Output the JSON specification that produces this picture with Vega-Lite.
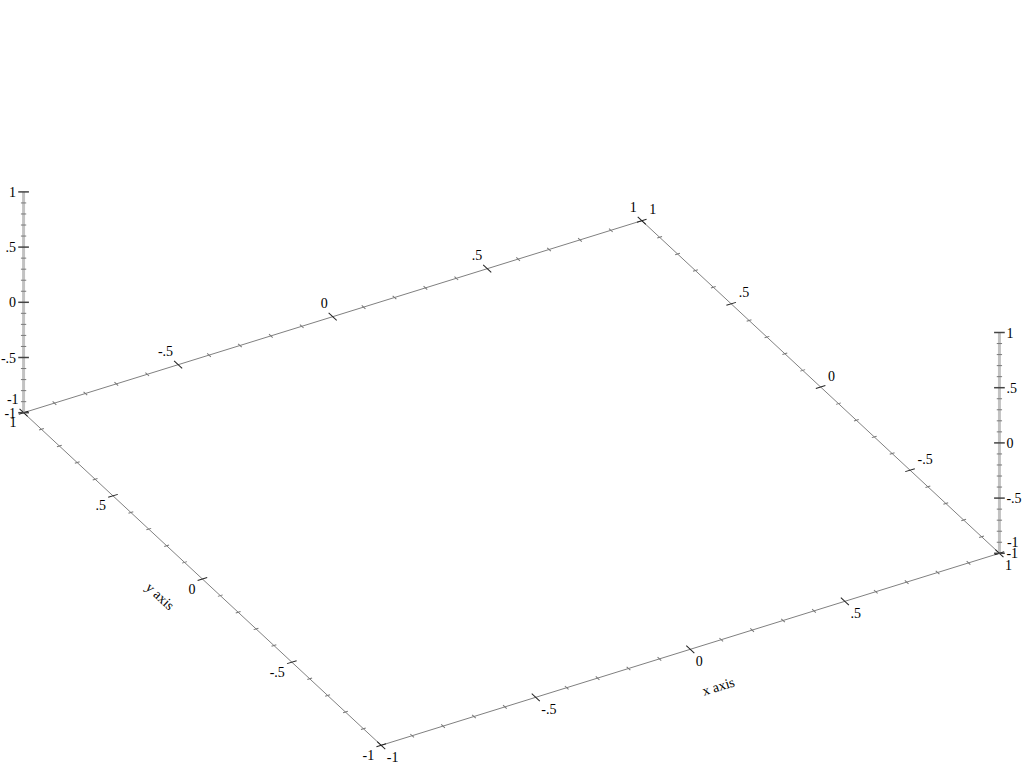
{
"$schema": "https://vega.github.io/schema/vega-lite/v6.json",
"width": 1024, "height": 768,
"autosize": {"type": "fit", "contains": "padding"},
"padding": 0,
"background": "white",
"config": {"view": {"stroke": null}, "text": {"font": "Liberation Serif", "fontSize": 14, "color": "#000000"}},
"datasets": {
"edges": [
{"k":"z","x":-1,"y":1,"z":-1,"x2":-1,"y2":1,"z2":1},
{"k":"z","x":1,"y":-1,"z":-1,"x2":1,"y2":-1,"z2":1},
{"k":"g","x":-1,"y":-1,"z":-1,"x2":1,"y2":-1,"z2":-1},
{"k":"g","x":-1,"y":1,"z":-1,"x2":1,"y2":1,"z2":-1},
{"k":"g","x":-1,"y":-1,"z":-1,"x2":-1,"y2":1,"z2":-1},
{"k":"g","x":1,"y":-1,"z":-1,"x2":1,"y2":1,"z2":-1}
],
"titles": [
{"t":"x axis","x":-0.03,"y":-1.21,"z":-1},
{"t":"y axis","x":-1.15,"y":-0.02,"z":-1}
],
"ticks": [
{"a":"xf","x":-1,"y":-1,"z":-1,"m":1,"l":"-1"},
{"a":"xf","x":-0.9,"y":-1,"z":-1,"m":0},
{"a":"xf","x":-0.8,"y":-1,"z":-1,"m":0},
{"a":"xf","x":-0.7,"y":-1,"z":-1,"m":0},
{"a":"xf","x":-0.6,"y":-1,"z":-1,"m":0},
{"a":"xf","x":-0.5,"y":-1,"z":-1,"m":1,"l":"-.5"},
{"a":"xf","x":-0.4,"y":-1,"z":-1,"m":0},
{"a":"xf","x":-0.3,"y":-1,"z":-1,"m":0},
{"a":"xf","x":-0.2,"y":-1,"z":-1,"m":0},
{"a":"xf","x":-0.1,"y":-1,"z":-1,"m":0},
{"a":"xf","x":0,"y":-1,"z":-1,"m":1,"l":"0"},
{"a":"xf","x":0.1,"y":-1,"z":-1,"m":0},
{"a":"xf","x":0.2,"y":-1,"z":-1,"m":0},
{"a":"xf","x":0.3,"y":-1,"z":-1,"m":0},
{"a":"xf","x":0.4,"y":-1,"z":-1,"m":0},
{"a":"xf","x":0.5,"y":-1,"z":-1,"m":1,"l":".5"},
{"a":"xf","x":0.6,"y":-1,"z":-1,"m":0},
{"a":"xf","x":0.7,"y":-1,"z":-1,"m":0},
{"a":"xf","x":0.8,"y":-1,"z":-1,"m":0},
{"a":"xf","x":0.9,"y":-1,"z":-1,"m":0},
{"a":"xf","x":1,"y":-1,"z":-1,"m":1,"l":"1"},
{"a":"xb","x":-1,"y":1,"z":-1,"m":1,"l":"-1"},
{"a":"xb","x":-0.9,"y":1,"z":-1,"m":0},
{"a":"xb","x":-0.8,"y":1,"z":-1,"m":0},
{"a":"xb","x":-0.7,"y":1,"z":-1,"m":0},
{"a":"xb","x":-0.6,"y":1,"z":-1,"m":0},
{"a":"xb","x":-0.5,"y":1,"z":-1,"m":1,"l":"-.5"},
{"a":"xb","x":-0.4,"y":1,"z":-1,"m":0},
{"a":"xb","x":-0.3,"y":1,"z":-1,"m":0},
{"a":"xb","x":-0.2,"y":1,"z":-1,"m":0},
{"a":"xb","x":-0.1,"y":1,"z":-1,"m":0},
{"a":"xb","x":0,"y":1,"z":-1,"m":1,"l":"0"},
{"a":"xb","x":0.1,"y":1,"z":-1,"m":0},
{"a":"xb","x":0.2,"y":1,"z":-1,"m":0},
{"a":"xb","x":0.3,"y":1,"z":-1,"m":0},
{"a":"xb","x":0.4,"y":1,"z":-1,"m":0},
{"a":"xb","x":0.5,"y":1,"z":-1,"m":1,"l":".5"},
{"a":"xb","x":0.6,"y":1,"z":-1,"m":0},
{"a":"xb","x":0.7,"y":1,"z":-1,"m":0},
{"a":"xb","x":0.8,"y":1,"z":-1,"m":0},
{"a":"xb","x":0.9,"y":1,"z":-1,"m":0},
{"a":"xb","x":1,"y":1,"z":-1,"m":1,"l":"1"},
{"a":"yf","x":-1,"y":-1,"z":-1,"m":1,"l":"-1"},
{"a":"yf","x":-1,"y":-0.9,"z":-1,"m":0},
{"a":"yf","x":-1,"y":-0.8,"z":-1,"m":0},
{"a":"yf","x":-1,"y":-0.7,"z":-1,"m":0},
{"a":"yf","x":-1,"y":-0.6,"z":-1,"m":0},
{"a":"yf","x":-1,"y":-0.5,"z":-1,"m":1,"l":"-.5"},
{"a":"yf","x":-1,"y":-0.4,"z":-1,"m":0},
{"a":"yf","x":-1,"y":-0.3,"z":-1,"m":0},
{"a":"yf","x":-1,"y":-0.2,"z":-1,"m":0},
{"a":"yf","x":-1,"y":-0.1,"z":-1,"m":0},
{"a":"yf","x":-1,"y":0,"z":-1,"m":1,"l":"0"},
{"a":"yf","x":-1,"y":0.1,"z":-1,"m":0},
{"a":"yf","x":-1,"y":0.2,"z":-1,"m":0},
{"a":"yf","x":-1,"y":0.3,"z":-1,"m":0},
{"a":"yf","x":-1,"y":0.4,"z":-1,"m":0},
{"a":"yf","x":-1,"y":0.5,"z":-1,"m":1,"l":".5"},
{"a":"yf","x":-1,"y":0.6,"z":-1,"m":0},
{"a":"yf","x":-1,"y":0.7,"z":-1,"m":0},
{"a":"yf","x":-1,"y":0.8,"z":-1,"m":0},
{"a":"yf","x":-1,"y":0.9,"z":-1,"m":0},
{"a":"yf","x":-1,"y":1,"z":-1,"m":1,"l":"1"},
{"a":"yb","x":1,"y":-1,"z":-1,"m":1,"l":"-1"},
{"a":"yb","x":1,"y":-0.9,"z":-1,"m":0},
{"a":"yb","x":1,"y":-0.8,"z":-1,"m":0},
{"a":"yb","x":1,"y":-0.7,"z":-1,"m":0},
{"a":"yb","x":1,"y":-0.6,"z":-1,"m":0},
{"a":"yb","x":1,"y":-0.5,"z":-1,"m":1,"l":"-.5"},
{"a":"yb","x":1,"y":-0.4,"z":-1,"m":0},
{"a":"yb","x":1,"y":-0.3,"z":-1,"m":0},
{"a":"yb","x":1,"y":-0.2,"z":-1,"m":0},
{"a":"yb","x":1,"y":-0.1,"z":-1,"m":0},
{"a":"yb","x":1,"y":0,"z":-1,"m":1,"l":"0"},
{"a":"yb","x":1,"y":0.1,"z":-1,"m":0},
{"a":"yb","x":1,"y":0.2,"z":-1,"m":0},
{"a":"yb","x":1,"y":0.3,"z":-1,"m":0},
{"a":"yb","x":1,"y":0.4,"z":-1,"m":0},
{"a":"yb","x":1,"y":0.5,"z":-1,"m":1,"l":".5"},
{"a":"yb","x":1,"y":0.6,"z":-1,"m":0},
{"a":"yb","x":1,"y":0.7,"z":-1,"m":0},
{"a":"yb","x":1,"y":0.8,"z":-1,"m":0},
{"a":"yb","x":1,"y":0.9,"z":-1,"m":0},
{"a":"yb","x":1,"y":1,"z":-1,"m":1,"l":"1"},
{"a":"zl","x":-1,"y":1,"z":-1,"m":1,"l":"-1"},
{"a":"zl","x":-1,"y":1,"z":-0.9,"m":0},
{"a":"zl","x":-1,"y":1,"z":-0.8,"m":0},
{"a":"zl","x":-1,"y":1,"z":-0.7,"m":0},
{"a":"zl","x":-1,"y":1,"z":-0.6,"m":0},
{"a":"zl","x":-1,"y":1,"z":-0.5,"m":1,"l":"-.5"},
{"a":"zl","x":-1,"y":1,"z":-0.4,"m":0},
{"a":"zl","x":-1,"y":1,"z":-0.3,"m":0},
{"a":"zl","x":-1,"y":1,"z":-0.2,"m":0},
{"a":"zl","x":-1,"y":1,"z":-0.1,"m":0},
{"a":"zl","x":-1,"y":1,"z":0,"m":1,"l":"0"},
{"a":"zl","x":-1,"y":1,"z":0.1,"m":0},
{"a":"zl","x":-1,"y":1,"z":0.2,"m":0},
{"a":"zl","x":-1,"y":1,"z":0.3,"m":0},
{"a":"zl","x":-1,"y":1,"z":0.4,"m":0},
{"a":"zl","x":-1,"y":1,"z":0.5,"m":1,"l":".5"},
{"a":"zl","x":-1,"y":1,"z":0.6,"m":0},
{"a":"zl","x":-1,"y":1,"z":0.7,"m":0},
{"a":"zl","x":-1,"y":1,"z":0.8,"m":0},
{"a":"zl","x":-1,"y":1,"z":0.9,"m":0},
{"a":"zl","x":-1,"y":1,"z":1,"m":1,"l":"1"},
{"a":"zr","x":1,"y":-1,"z":-1,"m":1,"l":"-1"},
{"a":"zr","x":1,"y":-1,"z":-0.9,"m":0},
{"a":"zr","x":1,"y":-1,"z":-0.8,"m":0},
{"a":"zr","x":1,"y":-1,"z":-0.7,"m":0},
{"a":"zr","x":1,"y":-1,"z":-0.6,"m":0},
{"a":"zr","x":1,"y":-1,"z":-0.5,"m":1,"l":"-.5"},
{"a":"zr","x":1,"y":-1,"z":-0.4,"m":0},
{"a":"zr","x":1,"y":-1,"z":-0.3,"m":0},
{"a":"zr","x":1,"y":-1,"z":-0.2,"m":0},
{"a":"zr","x":1,"y":-1,"z":-0.1,"m":0},
{"a":"zr","x":1,"y":-1,"z":0,"m":1,"l":"0"},
{"a":"zr","x":1,"y":-1,"z":0.1,"m":0},
{"a":"zr","x":1,"y":-1,"z":0.2,"m":0},
{"a":"zr","x":1,"y":-1,"z":0.3,"m":0},
{"a":"zr","x":1,"y":-1,"z":0.4,"m":0},
{"a":"zr","x":1,"y":-1,"z":0.5,"m":1,"l":".5"},
{"a":"zr","x":1,"y":-1,"z":0.6,"m":0},
{"a":"zr","x":1,"y":-1,"z":0.7,"m":0},
{"a":"zr","x":1,"y":-1,"z":0.8,"m":0},
{"a":"zr","x":1,"y":-1,"z":0.9,"m":0},
{"a":"zr","x":1,"y":-1,"z":1,"m":1,"l":"1"}
]
},
"layer": [
{"data": {"name": "edges"},
 "transform": [{"filter": "datum.k=='z'"},
  {"calculate": "309.4*datum.x - 179*datum.y", "as": "px"},
  {"calculate": "96*datum.x + 166.3*datum.y + 110.4*(datum.z+1)", "as": "py"},
  {"calculate": "309.4*datum.x2 - 179*datum.y2", "as": "px2"},
  {"calculate": "96*datum.x2 + 166.3*datum.y2 + 110.4*(datum.z2+1)", "as": "py2"}],
 "mark": {"type": "rule", "color": "#c2c2c2", "strokeWidth": 3},
 "encoding": {
  "x": {"field": "px", "type": "quantitative", "scale": {"domain": [-511, 513], "nice": false, "zero": false}, "axis": null},
  "y": {"field": "py", "type": "quantitative", "scale": {"domain": [-285, 483], "nice": false, "zero": false}, "axis": null},
  "x2": {"field": "px2"}, "y2": {"field": "py2"}}},
{"data": {"name": "edges"},
 "transform": [{"filter": "datum.k=='g'"},
  {"calculate": "309.4*datum.x - 179*datum.y", "as": "px"},
  {"calculate": "96*datum.x + 166.3*datum.y + 110.4*(datum.z+1)", "as": "py"},
  {"calculate": "309.4*datum.x2 - 179*datum.y2", "as": "px2"},
  {"calculate": "96*datum.x2 + 166.3*datum.y2 + 110.4*(datum.z2+1)", "as": "py2"}],
 "mark": {"type": "rule", "color": "#808080", "strokeWidth": 1},
 "encoding": {
  "x": {"field": "px", "type": "quantitative", "scale": {"domain": [-511, 513], "nice": false, "zero": false}, "axis": null},
  "y": {"field": "py", "type": "quantitative", "scale": {"domain": [-285, 483], "nice": false, "zero": false}, "axis": null},
  "x2": {"field": "px2"}, "y2": {"field": "py2"}}},
{"data": {"name": "ticks"},
 "transform": [{"filter": "(datum.a=='xf' || datum.a=='xb') && datum.m==0"},
  {"calculate": "309.4*datum.x - 179*datum.y", "as": "px"},
  {"calculate": "96*datum.x + 166.3*datum.y + 110.4*(datum.z+1)", "as": "py"}],
 "mark": {"type": "point", "shape": "M-1,0L1,0", "angle": 42.9, "size": 25, "filled": false, "color": "#777777", "opacity": 1, "strokeWidth": 1},
 "encoding": {
  "x": {"field": "px", "type": "quantitative", "scale": {"domain": [-511, 513], "nice": false, "zero": false}, "axis": null},
  "y": {"field": "py", "type": "quantitative", "scale": {"domain": [-285, 483], "nice": false, "zero": false}, "axis": null}}},
{"data": {"name": "ticks"},
 "transform": [{"filter": "(datum.a=='xf' || datum.a=='xb') && datum.m==1"},
  {"calculate": "309.4*datum.x - 179*datum.y", "as": "px"},
  {"calculate": "96*datum.x + 166.3*datum.y + 110.4*(datum.z+1)", "as": "py"}],
 "mark": {"type": "point", "shape": "M-1,0L1,0", "angle": 42.9, "size": 121, "filled": false, "color": "#222222", "opacity": 1, "strokeWidth": 1},
 "encoding": {
  "x": {"field": "px", "type": "quantitative", "scale": {"domain": [-511, 513], "nice": false, "zero": false}, "axis": null},
  "y": {"field": "py", "type": "quantitative", "scale": {"domain": [-285, 483], "nice": false, "zero": false}, "axis": null}}},
{"data": {"name": "ticks"},
 "transform": [{"filter": "(datum.a=='yf' || datum.a=='yb') && datum.m==0"},
  {"calculate": "309.4*datum.x - 179*datum.y", "as": "px"},
  {"calculate": "96*datum.x + 166.3*datum.y + 110.4*(datum.z+1)", "as": "py"}],
 "mark": {"type": "point", "shape": "M-1,0L1,0", "angle": -17.2, "size": 25, "filled": false, "color": "#777777", "opacity": 1, "strokeWidth": 1},
 "encoding": {
  "x": {"field": "px", "type": "quantitative", "scale": {"domain": [-511, 513], "nice": false, "zero": false}, "axis": null},
  "y": {"field": "py", "type": "quantitative", "scale": {"domain": [-285, 483], "nice": false, "zero": false}, "axis": null}}},
{"data": {"name": "ticks"},
 "transform": [{"filter": "(datum.a=='yf' || datum.a=='yb') && datum.m==1"},
  {"calculate": "309.4*datum.x - 179*datum.y", "as": "px"},
  {"calculate": "96*datum.x + 166.3*datum.y + 110.4*(datum.z+1)", "as": "py"}],
 "mark": {"type": "point", "shape": "M-1,0L1,0", "angle": -17.2, "size": 100, "filled": false, "color": "#222222", "opacity": 1, "strokeWidth": 1},
 "encoding": {
  "x": {"field": "px", "type": "quantitative", "scale": {"domain": [-511, 513], "nice": false, "zero": false}, "axis": null},
  "y": {"field": "py", "type": "quantitative", "scale": {"domain": [-285, 483], "nice": false, "zero": false}, "axis": null}}},
{"data": {"name": "ticks"},
 "transform": [{"filter": "(datum.a=='zl' || datum.a=='zr') && datum.m==0"},
  {"calculate": "309.4*datum.x - 179*datum.y", "as": "px"},
  {"calculate": "96*datum.x + 166.3*datum.y + 110.4*(datum.z+1)", "as": "py"}],
 "mark": {"type": "point", "shape": "M-1,0L1,0", "angle": 0, "size": 28, "filled": false, "color": "#7a7a7a", "opacity": 1, "strokeWidth": 1},
 "encoding": {
  "x": {"field": "px", "type": "quantitative", "scale": {"domain": [-511, 513], "nice": false, "zero": false}, "axis": null},
  "y": {"field": "py", "type": "quantitative", "scale": {"domain": [-285, 483], "nice": false, "zero": false}, "axis": null}}},
{"data": {"name": "ticks"},
 "transform": [{"filter": "(datum.a=='zl' || datum.a=='zr') && datum.m==1"},
  {"calculate": "309.4*datum.x - 179*datum.y", "as": "px"},
  {"calculate": "96*datum.x + 166.3*datum.y + 110.4*(datum.z+1)", "as": "py"}],
 "mark": {"type": "point", "shape": "M-1,0L1,0", "angle": 0, "size": 114, "filled": false, "color": "#444444", "opacity": 1, "strokeWidth": 1.5},
 "encoding": {
  "x": {"field": "px", "type": "quantitative", "scale": {"domain": [-511, 513], "nice": false, "zero": false}, "axis": null},
  "y": {"field": "py", "type": "quantitative", "scale": {"domain": [-285, 483], "nice": false, "zero": false}, "axis": null}}},
{"data": {"name": "ticks"},
 "transform": [{"filter": "datum.a=='xf' && datum.m==1"},
  {"calculate": "309.4*datum.x - 179*datum.y", "as": "px"},
  {"calculate": "96*datum.x + 166.3*datum.y + 110.4*(datum.z+1)", "as": "py"}],
 "mark": {"type": "text", "align": "left", "baseline": "middle", "dx": 5.5, "dy": 12.5},
 "encoding": {
  "x": {"field": "px", "type": "quantitative", "scale": {"domain": [-511, 513], "nice": false, "zero": false}, "axis": null},
  "y": {"field": "py", "type": "quantitative", "scale": {"domain": [-285, 483], "nice": false, "zero": false}, "axis": null},
  "text": {"field": "l"}}},
{"data": {"name": "ticks"},
 "transform": [{"filter": "datum.a=='xb' && datum.m==1"},
  {"calculate": "309.4*datum.x - 179*datum.y", "as": "px"},
  {"calculate": "96*datum.x + 166.3*datum.y + 110.4*(datum.z+1)", "as": "py"}],
 "mark": {"type": "text", "align": "right", "baseline": "middle", "dx": -5, "dy": -13},
 "encoding": {
  "x": {"field": "px", "type": "quantitative", "scale": {"domain": [-511, 513], "nice": false, "zero": false}, "axis": null},
  "y": {"field": "py", "type": "quantitative", "scale": {"domain": [-285, 483], "nice": false, "zero": false}, "axis": null},
  "text": {"field": "l"}}},
{"data": {"name": "ticks"},
 "transform": [{"filter": "datum.a=='yf' && datum.m==1"},
  {"calculate": "309.4*datum.x - 179*datum.y", "as": "px"},
  {"calculate": "96*datum.x + 166.3*datum.y + 110.4*(datum.z+1)", "as": "py"}],
 "mark": {"type": "text", "align": "right", "baseline": "middle", "dx": -7, "dy": 10.5},
 "encoding": {
  "x": {"field": "px", "type": "quantitative", "scale": {"domain": [-511, 513], "nice": false, "zero": false}, "axis": null},
  "y": {"field": "py", "type": "quantitative", "scale": {"domain": [-285, 483], "nice": false, "zero": false}, "axis": null},
  "text": {"field": "l"}}},
{"data": {"name": "ticks"},
 "transform": [{"filter": "datum.a=='yb' && datum.m==1"},
  {"calculate": "309.4*datum.x - 179*datum.y", "as": "px"},
  {"calculate": "96*datum.x + 166.3*datum.y + 110.4*(datum.z+1)", "as": "py"}],
 "mark": {"type": "text", "align": "left", "baseline": "middle", "dx": 7.5, "dy": -10.5},
 "encoding": {
  "x": {"field": "px", "type": "quantitative", "scale": {"domain": [-511, 513], "nice": false, "zero": false}, "axis": null},
  "y": {"field": "py", "type": "quantitative", "scale": {"domain": [-285, 483], "nice": false, "zero": false}, "axis": null},
  "text": {"field": "l"}}},
{"data": {"name": "ticks"},
 "transform": [{"filter": "datum.a=='zl' && datum.m==1"},
  {"calculate": "309.4*datum.x - 179*datum.y", "as": "px"},
  {"calculate": "96*datum.x + 166.3*datum.y + 110.4*(datum.z+1)", "as": "py"}],
 "mark": {"type": "text", "align": "right", "baseline": "middle", "dx": -7.5, "dy": 1},
 "encoding": {
  "x": {"field": "px", "type": "quantitative", "scale": {"domain": [-511, 513], "nice": false, "zero": false}, "axis": null},
  "y": {"field": "py", "type": "quantitative", "scale": {"domain": [-285, 483], "nice": false, "zero": false}, "axis": null},
  "text": {"field": "l"}}},
{"data": {"name": "ticks"},
 "transform": [{"filter": "datum.a=='zr' && datum.m==1"},
  {"calculate": "309.4*datum.x - 179*datum.y", "as": "px"},
  {"calculate": "96*datum.x + 166.3*datum.y + 110.4*(datum.z+1)", "as": "py"}],
 "mark": {"type": "text", "align": "left", "baseline": "middle", "dx": 7, "dy": 1},
 "encoding": {
  "x": {"field": "px", "type": "quantitative", "scale": {"domain": [-511, 513], "nice": false, "zero": false}, "axis": null},
  "y": {"field": "py", "type": "quantitative", "scale": {"domain": [-285, 483], "nice": false, "zero": false}, "axis": null},
  "text": {"field": "l"}}},
{"data": {"name": "titles"},
 "transform": [{"filter": "datum.t=='x axis'"},
  {"calculate": "309.4*datum.x - 179*datum.y", "as": "px"},
  {"calculate": "96*datum.x + 166.3*datum.y + 110.4*(datum.z+1)", "as": "py"}],
 "mark": {"type": "text", "align": "center", "baseline": "middle", "angle": -17.2},
 "encoding": {
  "x": {"field": "px", "type": "quantitative", "scale": {"domain": [-511, 513], "nice": false, "zero": false}, "axis": null},
  "y": {"field": "py", "type": "quantitative", "scale": {"domain": [-285, 483], "nice": false, "zero": false}, "axis": null},
  "text": {"field": "t"}}},
{"data": {"name": "titles"},
 "transform": [{"filter": "datum.t=='y axis'"},
  {"calculate": "309.4*datum.x - 179*datum.y", "as": "px"},
  {"calculate": "96*datum.x + 166.3*datum.y + 110.4*(datum.z+1)", "as": "py"}],
 "mark": {"type": "text", "align": "center", "baseline": "middle", "angle": 42.9},
 "encoding": {
  "x": {"field": "px", "type": "quantitative", "scale": {"domain": [-511, 513], "nice": false, "zero": false}, "axis": null},
  "y": {"field": "py", "type": "quantitative", "scale": {"domain": [-285, 483], "nice": false, "zero": false}, "axis": null},
  "text": {"field": "t"}}}
]
}
